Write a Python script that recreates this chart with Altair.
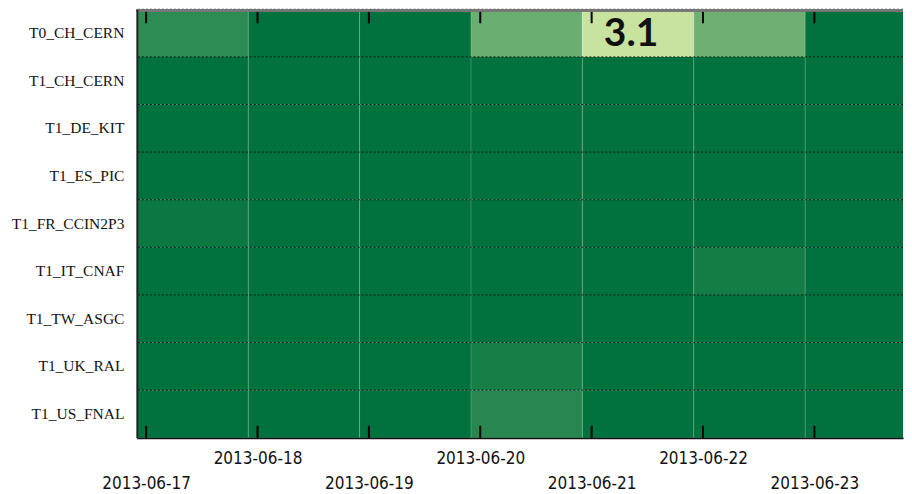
import altair as alt
import pandas as pd

sites = ["T0_CH_CERN", "T1_CH_CERN", "T1_DE_KIT", "T1_ES_PIC", "T1_FR_CCIN2P3",
         "T1_IT_CNAF", "T1_TW_ASGC", "T1_UK_RAL", "T1_US_FNAL"]
days = ["2013-06-17", "2013-06-18", "2013-06-19", "2013-06-20",
        "2013-06-21", "2013-06-22", "2013-06-23"]
values = [
    [0.7, 0.0, 0.0, 1.65, 3.1, 1.7, 0.0],   # T0_CH_CERN
    [0.0, 0.0, 0.0, 0.0, 0.0, 0.0, 0.0],    # T1_CH_CERN
    [0.0, 0.0, 0.0, 0.0, 0.0, 0.0, 0.0],    # T1_DE_KIT
    [0.0, 0.0, 0.0, 0.0, 0.0, 0.0, 0.0],    # T1_ES_PIC
    [0.15, 0.0, 0.0, 0.0, 0.0, 0.0, 0.0],   # T1_FR_CCIN2P3
    [0.0, 0.0, 0.0, 0.0, 0.0, 0.3, 0.0],    # T1_IT_CNAF
    [0.0, 0.0, 0.0, 0.0, 0.0, 0.0, 0.0],    # T1_TW_ASGC
    [0.0, 0.0, 0.0, 0.35, 0.0, 0.0, 0.0],   # T1_UK_RAL
    [0.0, 0.0, 0.0, 0.6, 0.0, 0.0, 0.0],    # T1_US_FNAL
]
label_site = "T0_CH_CERN"
label_day = "2013-06-21"
label_text = "3.1"

# tick positions sit ~2 hours after each cell start
tick_shift = 2 / 24

rows = []
for s, vals in zip(sites, values):
    for i, (d, v) in enumerate(zip(days, vals)):
        rows.append({"site": s, "day": d, "x0": i, "x1": i + 1, "value": v})
df = pd.DataFrame(rows)

tick_vals = [i + tick_shift for i in range(len(days))]
ticks_df = pd.DataFrame({"x0": tick_vals})
bounds_df = pd.DataFrame({"x0": list(range(1, len(days)))})
lbl_df = pd.DataFrame({"site": [label_site],
                       "x0": [days.index(label_day) + 0.5],
                       "txt": [label_text]})
sites_df = pd.DataFrame({"site": sites})

W = 767
H = 429
day_px = 111.5
xmax = W / day_px

dark = "#01713d"
light = "#c8e3a0"

x_scale = alt.Scale(domain=[0, xmax], nice=False, zero=False)
y_scale = alt.Scale(domain=sites, paddingInner=0, paddingOuter=0)

labels_js = "[" + ",".join("'" + d + "'" for d in days) + "]"
label_expr = ("floor(datum.value) % 2 == 0 ? ['', " + labels_js + "[floor(datum.value)]] : "
              + labels_js + "[floor(datum.value)]")

x_axis = alt.Axis(
    values=tick_vals, labelExpr=label_expr, ticks=False, grid=False,
    domainColor="#111", domainWidth=2, title=None,
    labelFont="DejaVu Sans Condensed, Liberation Sans, sans-serif",
    labelFontSize=17, labelColor="#111",
    labelPadding=13, labelLineHeight=25, labelFlush=False, labelOverlap=False)
y_axis = alt.Axis(
    title=None, ticks=False, grid=False, domainColor="#222", domainWidth=2,
    labelFont="Liberation Serif", labelFontSize=15.5, labelColor="#111",
    labelPadding=13, minExtent=129, maxExtent=129)

X = lambda f: alt.X(f, scale=x_scale, axis=x_axis)
Y = lambda f, **kw: alt.Y(f, scale=y_scale, sort=sites, axis=y_axis, **kw)

rects = alt.Chart(df).mark_rect(clip=True).encode(
    x=X("x0:Q"),
    x2="x1:Q",
    y=Y("site:N"),
    color=alt.Color("value:Q", scale=alt.Scale(domain=[0, 3.1], range=[dark, light],
                                               interpolate="rgb"), legend=None),
)

vlines = alt.Chart(bounds_df).mark_rule(color="white", strokeOpacity=0.22, strokeWidth=1).encode(
    x=X("x0:Q"),
)

grid = alt.Chart(sites_df).mark_rule(
    strokeDash=[2, 2], color="#111", strokeWidth=1, opacity=0.9
).encode(
    y=Y("site:N", bandPosition=0),
)

bottom_ticks = alt.Chart(ticks_df).mark_rule(color="#000", strokeWidth=2).encode(
    x=X("x0:Q"),
    y=alt.value(H - 12), y2=alt.value(H),
)
top_ticks = alt.Chart(ticks_df).mark_rule(color="#000", strokeWidth=2).encode(
    x=X("x0:Q"),
    y=alt.value(1), y2=alt.value(14),
)
top_border = alt.Chart(sites_df).mark_rule(color="#777", strokeWidth=2).encode(
    x=alt.value(0), x2=alt.value(W), y=alt.value(1),
)

label = alt.Chart(lbl_df).mark_text(
    font="Lato", fontWeight="bold", fontSize=39, color="#111",
    align="center", baseline="middle", dx=-7, dy=1
).encode(
    x=X("x0:Q"),
    y=Y("site:N"),
    text="txt:N",
)

chart = alt.layer(rects, vlines, grid, bottom_ticks, top_ticks, top_border, label).properties(
    width=W, height=H, padding={"left": 0, "top": 0, "right": 0, "bottom": 0},
    background="white"
).configure_view(stroke=None)

chart.save("out.html", embed_options={"renderer": "svg", "actions": False})
